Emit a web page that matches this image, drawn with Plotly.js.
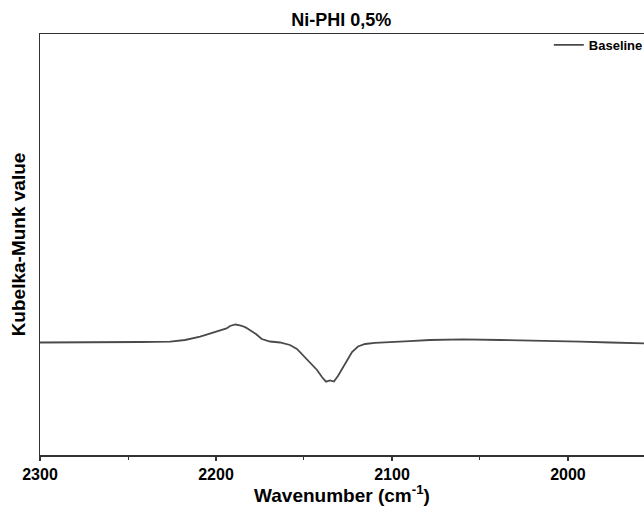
<!DOCTYPE html>
<html>
<head>
<meta charset="utf-8">
<script src="https://cdn.plot.ly/plotly-3.0.1.min.js"></script>
<style>html,body{margin:0;padding:0;background:#fff;overflow:hidden;}#chart{width:644px;height:506px;}</style>
</head>
<body>
<div id="chart"></div>
<script>
const wavenumber = [2300, 2288.6, 2266, 2243, 2226, 2217.6, 2209, 2204, 2201.7, 2198, 2196.6, 2194, 2192, 2190.5, 2189, 2187, 2185, 2183, 2181, 2177.3, 2174, 2169.3, 2163.6, 2158, 2154, 2150.6, 2146.6, 2142.6, 2139.8, 2137.5, 2135.2, 2133, 2130.7, 2128.4, 2125.6, 2122.7, 2119.3, 2115.3, 2109.7, 2101, 2090, 2078.4, 2059.7, 2038.6, 2012, 1993, 1976, 1956.8];
const kmValue = [-0.0025, -0.0025, -0.0015, 0, 0.0015, 0.01, 0.0265, 0.04, 0.0465, 0.055, 0.06, 0.068, 0.08, 0.085, 0.0875, 0.084, 0.08, 0.072, 0.06, 0.04, 0.015, 0.0025, -0.0025, -0.015, -0.035, -0.065, -0.1, -0.14, -0.175, -0.1985, -0.1925, -0.1975, -0.17, -0.135, -0.09, -0.05, -0.0225, -0.01, -0.004, -0.0015, 0.004, 0.01, 0.0135, 0.01, 0.0065, 0.0015, -0.0025, -0.0065];
const xTickVals = [2300, 2200, 2100, 2000];
const xTickText = ['2300', '2200', '2100', '2000'];
const seriesName = 'Baseline';

const font = 'Liberation Sans, Arial, sans-serif';
Plotly.newPlot('chart', [{
  x: wavenumber, y: kmValue, type: 'scatter', mode: 'lines', name: seriesName,
  line: {color: '#4a4a4a', width: 1.8}
}], {
  width: 644, height: 506,
  margin: {l: 40, r: 0, t: 34, b: 51, autoexpand: false},
  paper_bgcolor: '#fff', plot_bgcolor: '#fff',
  font: {family: font, color: '#000'},
  title: {text: '<b>Ni-PHI 0,5%</b>', font: {size: 18, family: font, color: '#000'}, x: 0.53, xanchor: 'center', y: 0.962, yanchor: 'middle'},
  xaxis: {
    range: [2300, 1956.8], showgrid: false, zeroline: false,
    showline: true, linecolor: '#333', linewidth: 1.5, mirror: true,
    tickvals: xTickVals, ticktext: xTickText, ticks: 'outside', ticklen: 4, tickwidth: 1.2, tickcolor: '#333',
    minor: {dtick: 50, ticks: 'outside', ticklen: 3, tickwidth: 1, tickcolor: '#333'},
    tickfont: {size: 16, family: font, color: '#000', weight: 'bold'},
    title: {text: '<b>Wavenumber (cm<sup>-1</sup>)</b>', font: {size: 19, family: font, color: '#000'}, standoff: 2}
  },
  yaxis: {
    range: [-0.565, 1.54], showgrid: false, zeroline: false,
    showline: true, linecolor: '#333', linewidth: 1.5, mirror: false,
    showticklabels: false, ticks: '',
    title: {text: '<b>Kubelka-Munk value</b>', font: {size: 19, family: font, color: '#000'}, standoff: 8}
  },
  showlegend: true,
  legend: {x: 0.8424, xanchor: 'left', y: 1.0095, yanchor: 'top', bgcolor: 'rgba(0,0,0,0)', font: {size: 13, family: font, color: '#000', weight: 'bold'}, itemwidth: 30}
}, {displayModeBar: false, staticPlot: true});
</script>
</body>
</html>
